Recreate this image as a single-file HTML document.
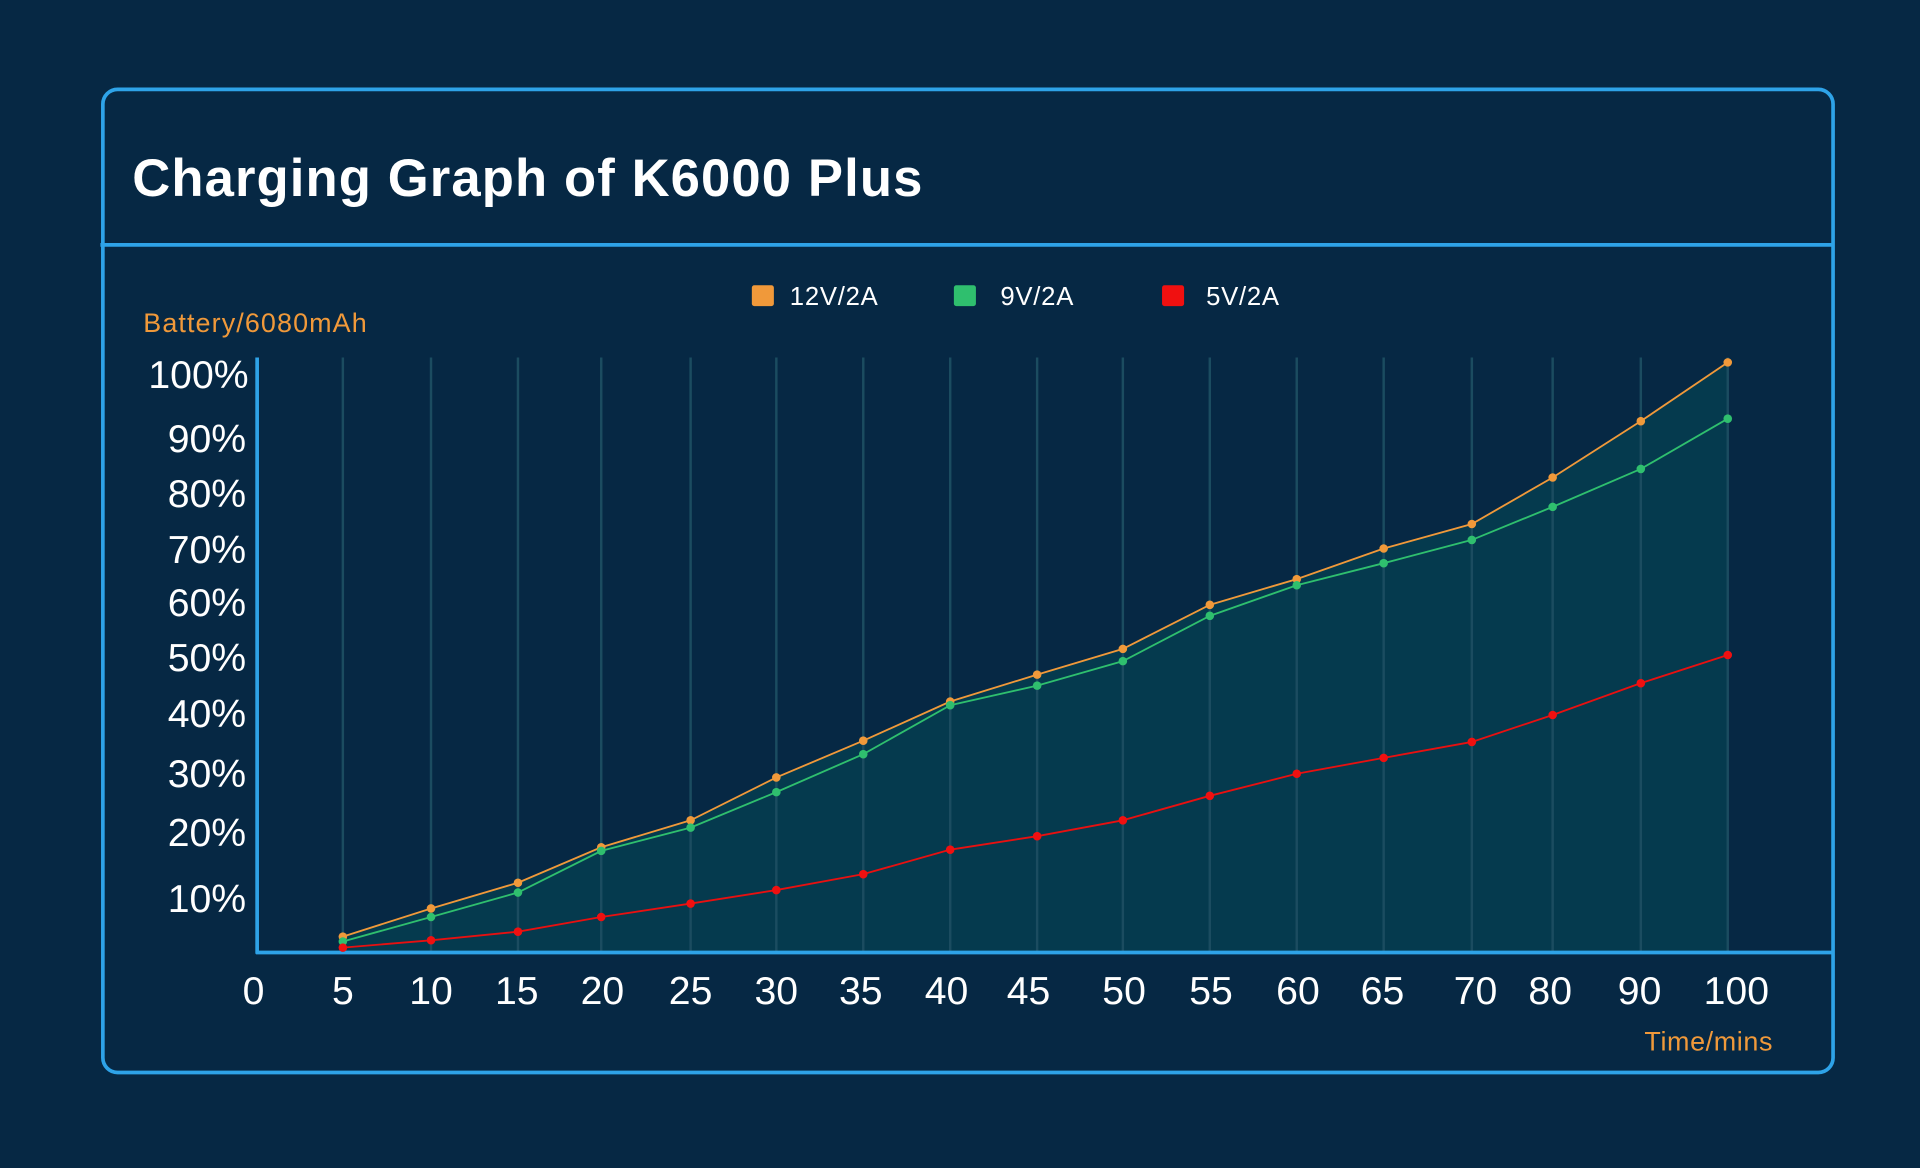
<!DOCTYPE html>
<html><head><meta charset="utf-8"><style>
html,body{margin:0;padding:0;background:#062844;}
svg{display:block}
</style></head><body>
<svg width="1920" height="1168" viewBox="0 0 1568 954" preserveAspectRatio="none" xmlns="http://www.w3.org/2000/svg">
<rect width="1568" height="954" fill="#062844"/>
<rect x="84" y="73" width="1413" height="803" rx="12" fill="none" stroke="#2ea3e8" stroke-width="3"/>
<line x1="82" y1="200" x2="1497" y2="200" stroke="#2ea3e8" stroke-width="3"/>
<text x="108" y="160" font-family="Liberation Sans, sans-serif" font-weight="bold" font-size="43" letter-spacing="0.9" fill="#fff">Charging Graph of K6000 Plus</text>
<g font-family="Liberation Sans, DejaVu Sans, sans-serif" font-size="21" fill="#fff" letter-spacing="0.6">
<rect x="614" y="233" width="18" height="17" rx="2" fill="#f0993a"/><text x="645" y="249">12V/2A</text>
<rect x="779" y="233" width="18" height="17" rx="2" fill="#2fbf6e"/><text x="817" y="249">9V/2A</text>
<rect x="949" y="233" width="18" height="17" rx="2" fill="#f01010"/><text x="985" y="249">5V/2A</text>
</g>
<text x="117" y="271" font-family="Liberation Sans, sans-serif" font-size="22" letter-spacing="0.9" fill="#f0993a">Battery/6080mAh</text>
<text x="1448" y="858" text-anchor="end" font-family="Liberation Sans, sans-serif" font-size="22" letter-spacing="0.5" fill="#f0993a">Time/mins</text>
<polygon fill="#053a4e" points="280,765 352,742 423,721 491,692 564,670 634,635 705,605 776,573 847,551 917,530 988,494 1059,473 1130,448 1202,428 1268,390 1340,344 1411,296 1411,778 280,778"/>
<g stroke="#1b4c60" stroke-width="2">
<line x1="280" y1="292" x2="280" y2="778"/><line x1="352" y1="292" x2="352" y2="778"/><line x1="423" y1="292" x2="423" y2="778"/><line x1="491" y1="292" x2="491" y2="778"/><line x1="564" y1="292" x2="564" y2="778"/><line x1="634" y1="292" x2="634" y2="778"/><line x1="705" y1="292" x2="705" y2="778"/><line x1="776" y1="292" x2="776" y2="778"/><line x1="847" y1="292" x2="847" y2="778"/><line x1="917" y1="292" x2="917" y2="778"/><line x1="988" y1="292" x2="988" y2="778"/><line x1="1059" y1="292" x2="1059" y2="778"/><line x1="1130" y1="292" x2="1130" y2="778"/><line x1="1202" y1="292" x2="1202" y2="778"/><line x1="1268" y1="292" x2="1268" y2="778"/><line x1="1340" y1="292" x2="1340" y2="778"/><line x1="1411" y1="292" x2="1411" y2="778"/>
</g>
<line x1="210" y1="292" x2="210" y2="779" stroke="#2ea3e8" stroke-width="3"/>
<line x1="209" y1="778" x2="1497" y2="778" stroke="#2ea3e8" stroke-width="3"/>
<g fill="none" stroke-width="1.5">
<polyline stroke="#f0993a" points="280,765 352,742 423,721 491,692 564,670 634,635 705,605 776,573 847,551 917,530 988,494 1059,473 1130,448 1202,428 1268,390 1340,344 1411,296"/>
<polyline stroke="#2fbf6e" points="280,769 352,749 423,729 491,695 564,676 634,647 705,616 776,576 847,560 917,540 988,503 1059,478 1130,460 1202,441 1268,414 1340,383 1411,342"/>
<polyline stroke="#e81010" points="280,774 352,768 423,761 491,749 564,738 634,727 705,714 776,694 847,683 917,670 988,650 1059,632 1130,619 1202,606 1268,584 1340,558 1411,535"/>
</g>
<g fill="#f0993a"><circle cx="280" cy="765" r="3.5"/><circle cx="352" cy="742" r="3.5"/><circle cx="423" cy="721" r="3.5"/><circle cx="491" cy="692" r="3.5"/><circle cx="564" cy="670" r="3.5"/><circle cx="634" cy="635" r="3.5"/><circle cx="705" cy="605" r="3.5"/><circle cx="776" cy="573" r="3.5"/><circle cx="847" cy="551" r="3.5"/><circle cx="917" cy="530" r="3.5"/><circle cx="988" cy="494" r="3.5"/><circle cx="1059" cy="473" r="3.5"/><circle cx="1130" cy="448" r="3.5"/><circle cx="1202" cy="428" r="3.5"/><circle cx="1268" cy="390" r="3.5"/><circle cx="1340" cy="344" r="3.5"/><circle cx="1411" cy="296" r="3.5"/></g>
<g fill="#2fbf6e"><circle cx="280" cy="769" r="3.5"/><circle cx="352" cy="749" r="3.5"/><circle cx="423" cy="729" r="3.5"/><circle cx="491" cy="695" r="3.5"/><circle cx="564" cy="676" r="3.5"/><circle cx="634" cy="647" r="3.5"/><circle cx="705" cy="616" r="3.5"/><circle cx="776" cy="576" r="3.5"/><circle cx="847" cy="560" r="3.5"/><circle cx="917" cy="540" r="3.5"/><circle cx="988" cy="503" r="3.5"/><circle cx="1059" cy="478" r="3.5"/><circle cx="1130" cy="460" r="3.5"/><circle cx="1202" cy="441" r="3.5"/><circle cx="1268" cy="414" r="3.5"/><circle cx="1340" cy="383" r="3.5"/><circle cx="1411" cy="342" r="3.5"/></g>
<g fill="#f01010"><circle cx="280" cy="774" r="3.5"/><circle cx="352" cy="768" r="3.5"/><circle cx="423" cy="761" r="3.5"/><circle cx="491" cy="749" r="3.5"/><circle cx="564" cy="738" r="3.5"/><circle cx="634" cy="727" r="3.5"/><circle cx="705" cy="714" r="3.5"/><circle cx="776" cy="694" r="3.5"/><circle cx="847" cy="683" r="3.5"/><circle cx="917" cy="670" r="3.5"/><circle cx="988" cy="650" r="3.5"/><circle cx="1059" cy="632" r="3.5"/><circle cx="1130" cy="619" r="3.5"/><circle cx="1202" cy="606" r="3.5"/><circle cx="1268" cy="584" r="3.5"/><circle cx="1340" cy="558" r="3.5"/><circle cx="1411" cy="535" r="3.5"/></g>
<g font-family="Liberation Sans, DejaVu Sans, sans-serif" font-size="32" fill="#fff" text-anchor="end">
<text x="203" y="317">100%</text><text x="201" y="369">90%</text><text x="201" y="414">80%</text><text x="201" y="460">70%</text><text x="201" y="503">60%</text><text x="201" y="548">50%</text><text x="201" y="594">40%</text><text x="201" y="643">30%</text><text x="201" y="691">20%</text><text x="201" y="745">10%</text>
</g>
<g font-family="Liberation Sans, DejaVu Sans, sans-serif" font-size="32" fill="#fff" text-anchor="middle">
<text x="207" y="820">0</text><text x="280" y="820">5</text><text x="352" y="820">10</text><text x="422" y="820">15</text><text x="492" y="820">20</text><text x="564" y="820">25</text><text x="634" y="820">30</text><text x="703" y="820">35</text><text x="773" y="820">40</text><text x="840" y="820">45</text><text x="918" y="820">50</text><text x="989" y="820">55</text><text x="1060" y="820">60</text><text x="1129" y="820">65</text><text x="1205" y="820">70</text><text x="1266" y="820">80</text><text x="1339" y="820">90</text><text x="1418" y="820">100</text>
</g>
</svg>
</body></html>
